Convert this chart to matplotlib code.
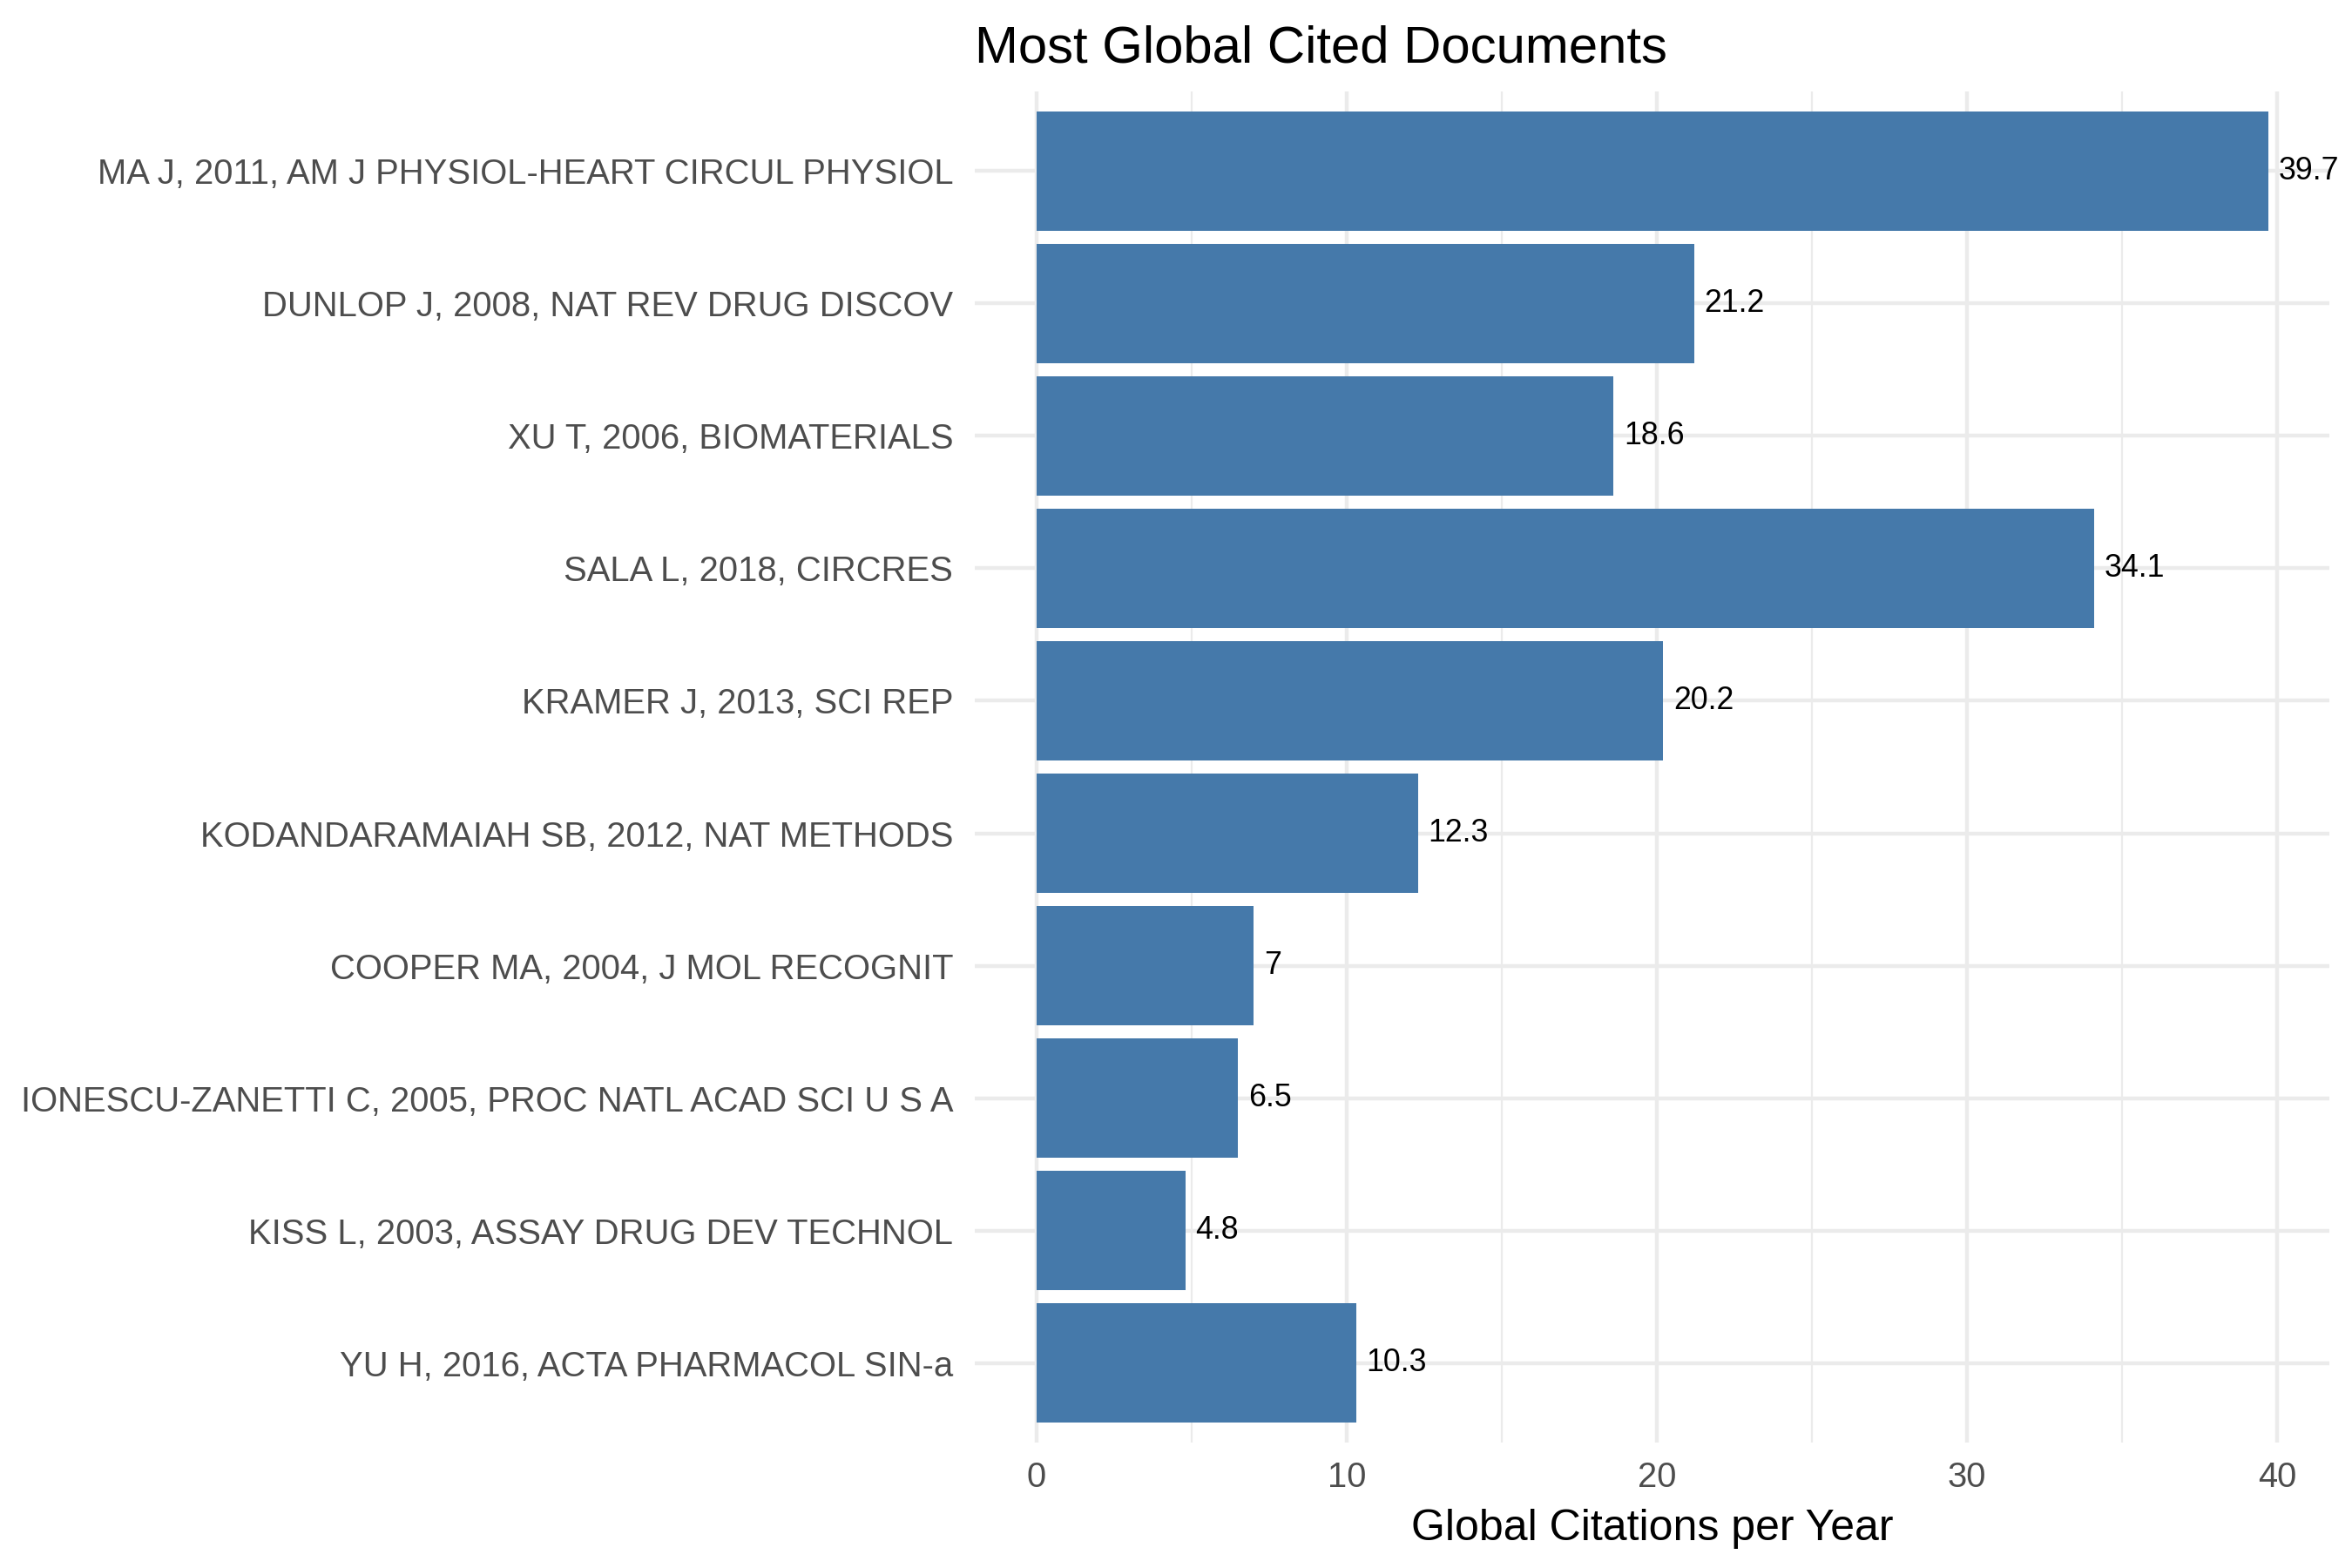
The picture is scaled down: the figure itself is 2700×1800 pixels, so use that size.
import matplotlib
matplotlib.use("Agg")
import matplotlib.pyplot as plt
from matplotlib.ticker import MultipleLocator

plt.rcParams['font.family'] = ['Liberation Sans', 'DejaVu Sans']

documents = [
    "MA J, 2011, AM J PHYSIOL-HEART CIRCUL PHYSIOL",
    "DUNLOP J, 2008, NAT REV DRUG DISCOV",
    "XU T, 2006, BIOMATERIALS",
    "SALA L, 2018, CIRCRES",
    "KRAMER J, 2013, SCI REP",
    "KODANDARAMAIAH SB, 2012, NAT METHODS",
    "COOPER MA, 2004, J MOL RECOGNIT",
    "IONESCU-ZANETTI C, 2005, PROC NATL ACAD SCI U S A",
    "KISS L, 2003, ASSAY DRUG DEV TECHNOL",
    "YU H, 2016, ACTA PHARMACOL SIN-a",
]
citations = [39.7, 21.2, 18.6, 34.1, 20.2, 12.3, 7.0, 6.5, 4.8, 10.3]
value_labels = ["39.7", "21.2", "18.6", "34.1", "20.2", "12.3", "7", "6.5", "4.8", "10.3"]
x_ticks = [0, 10, 20, 30, 40]

fig = plt.figure(figsize=(9, 6), dpi=300)
ax = fig.add_axes([0.4145, 0.08, 0.576, 0.8617])

n = len(documents)
ypos = list(range(n, 0, -1))  # top first
ax.barh(ypos, citations, height=0.9, color="#4579AA", zorder=2)

for y, v, lab in zip(ypos, citations, value_labels):
    ax.annotate(lab, xy=(v, y), xytext=(2.8, 0), textcoords="offset points",
                ha="left", va="center", fontsize=8.6, color="black",
                annotation_clip=False, zorder=3)

vmax = max(citations)
ax.set_xlim(-0.05 * vmax, vmax * 1.05)
ax.set_ylim(0.4, n + 0.6)
ax.set_yticks(ypos)
ax.set_yticklabels(documents)
ax.set_xticks(x_ticks)
ax.xaxis.set_minor_locator(MultipleLocator(5))

for s in ax.spines.values():
    s.set_visible(False)
ax.tick_params(axis="both", which="both", length=0)
ax.tick_params(axis="y", pad=6, labelsize=9.6, labelcolor="#4D4D4D")
ax.tick_params(axis="x", pad=5, labelsize=9.6, labelcolor="#4D4D4D")

ax.grid(True, which="major", axis="both", color="#EBEBEB", linewidth=1.07, zorder=0)
ax.grid(True, which="minor", axis="x", color="#EBEBEB", linewidth=0.53, zorder=0)
ax.set_axisbelow(True)

ax.set_xlabel("Global Citations per Year", fontsize=12, color="black", labelpad=4)
ax.set_title("Most Global Cited Documents", fontsize=14.4, color="black", loc="left", pad=8)

fig.savefig("out.png", dpi=300, facecolor="white")
